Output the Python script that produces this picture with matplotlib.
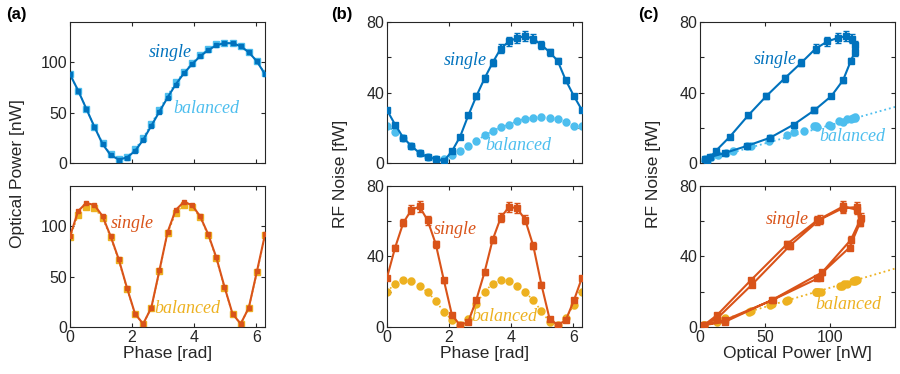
import numpy as np
import matplotlib.pyplot as plt

plt.rcParams['font.family'] = ['Liberation Sans', 'DejaVu Sans']

# phase samples (rad)
phase = np.arange(25) * np.pi / 12

# (a) optical power [nW]
pow1_bal = [88, 72, 54, 36, 20, 8.6, 4, 6, 13.6, 25, 39, 53, 67, 80, 90, 99,
            107, 113, 118, 119.5, 119, 116, 110, 101, 89]
pow1_sng = [88, 72, 54, 36, 19, 7.8, 3.5, 5.5, 12, 23, 37, 51, 65, 78, 89, 98,
            106, 112, 117, 119, 119, 116, 110, 101, 88]
pow2_bal = [89, 111, 119, 118, 108, 89, 66, 38, 13, 3, 19, 55, 93, 113, 121,
            119, 109, 91, 68, 39, 13, 3, 19, 54, 91]
pow2_sng = [90, 115, 123, 121, 110, 90, 67, 39, 13, 3, 19, 56, 94, 116, 124,
            121, 110, 92, 69, 40, 13, 3, 19, 55, 92]

# (b) RF noise [fW]
rf1_sng = [30, 21.8, 14.4, 9.7, 5.7, 3.4, 2.3, 1.1, 6.8, 15, 27, 38, 48, 57,
           65, 69, 71, 72, 70.6, 67, 63, 58, 47, 38, 30]
rf1_sng_err = [1, 1, 1, 1, 1, 1, 1, 1, 1, 1, 1.5, 1.5, 2, 2, 2.5, 2.5, 3, 3,
               2.5, 2.5, 2, 1.5, 1.5, 1, 1]
rf1_bal = [21, 17.6, 14.4, 9.7, 5.7, 3.4, 2.3, 2.5, 4.4, 6.8, 9.7, 12.5, 15.7,
           18.2, 20.5, 21.8, 23.9, 25.2, 25.8, 26.1, 25.6, 25.2, 23.3, 20.8, 21]
rf2_sng = [28, 45, 59, 66.4, 68.3, 60.4, 47, 26.4, 6.6, 1, 2.8, 15.5, 31, 49.4,
           62, 68, 67.4, 60.8, 46, 24, 4.7, 1, 3.8, 15, 28]
rf2_sng_err = [1, 1.5, 2, 2.5, 3, 2.5, 2, 1.5, 1, 1, 1, 1, 1.5, 2, 2.5, 3, 3,
               2.5, 2, 1.5, 1, 1, 1, 1, 1]
rf2_bal = [20, 24.5, 26.4, 26, 23, 19.8, 14.7, 8.5, 3.8, 1.3, 4.7, 13.2, 20,
           24.5, 26.8, 26, 23, 19.8, 15, 9, 2.8, 1, 5.3, 12.3, 20]
bal_err = 1.5

# (c) linear fits of balanced noise vs power
fit1 = (0.207, 0.8)
fit2 = (0.218, 0.4)
fit_x = [0, 150]

blue, lblue = '#0072BD', '#4DBEEE'
red, yel = '#D95319', '#EDB120'

fig = plt.figure(figsize=(9, 3.74), dpi=100)
W = 0.2167
H = 0.377
lefts = [0.0778, 0.43, 0.7778]
bots = [0.564, 0.126]
axs = [[fig.add_axes([l, b, W, H]) for l in lefts] for b in bots]


def style(ax):
    ax.tick_params(direction='in', top=True, right=True, length=3,
                   labelsize=11.5, colors='#262626', pad=2)
    for s in ax.spines.values():
        s.set_color('#262626')
        s.set_linewidth(0.8)


def lab(ax, x, y, s, c):
    ax.text(x, y, s, color=c, fontsize=13, style='italic',
            family='Liberation Serif', ha='center', va='center')


# (a)
for ax, sng, bal, cs, cb in [(axs[0][0], pow1_sng, pow1_bal, blue, lblue),
                             (axs[1][0], pow2_sng, pow2_bal, red, yel)]:
    ax.errorbar(phase, bal, yerr=1, color=cb, ls=':', marker='s', ms=4,
                capsize=1, lw=1.2, zorder=2)
    ax.plot(phase, sng, color=cs, marker='s', ms=2.5, lw=1.5, zorder=3)
    ax.set_xlim(0, 2 * np.pi)
    ax.set_ylim(0, 140)
    ax.set_yticks([0, 50, 100])
    ax.set_xticks([0, 2, 4, 6])
    style(ax)
axs[0][0].set_xticklabels([])
lab(axs[0][0], 3.24, 110, 'single', blue)
lab(axs[0][0], 4.4, 54, 'balanced', lblue)
lab(axs[1][0], 2.0, 103, 'single', red)
lab(axs[1][0], 3.77, 18, 'balanced', yel)

# (b)
for ax, sng, serr, bal, cs, cb in [(axs[0][1], rf1_sng, rf1_sng_err, rf1_bal, blue, lblue),
                                   (axs[1][1], rf2_sng, rf2_sng_err, rf2_bal, red, yel)]:
    ax.errorbar(phase, bal, yerr=bal_err, color=cb, ls=':', marker='o', ms=5,
                capsize=1.5, lw=1.2, zorder=2)
    ax.errorbar(phase, sng, yerr=serr, color=cs, ls='-', marker='s', ms=4,
                capsize=2, lw=1.5, zorder=3)
    ax.set_xlim(0, 2 * np.pi)
    ax.set_ylim(0, 80)
    ax.set_yticks([0, 20, 40, 60, 80])
    ax.set_yticklabels(['0', '', '40', '', '80'])
    ax.set_xticks([0, 2, 4, 6])
    style(ax)
axs[0][1].set_xticklabels([])
lab(axs[0][1], 2.53, 58, 'single', blue)
lab(axs[0][1], 4.22, 10, 'balanced', lblue)
lab(axs[1][1], 2.19, 55, 'single', red)
lab(axs[1][1], 3.79, 5.7, 'balanced', yel)

# (c)
for ax, ps, pb, sng, serr, bal, fit, cs, cb in [
        (axs[0][2], pow1_sng, pow1_bal, rf1_sng, rf1_sng_err, rf1_bal, fit1, blue, lblue),
        (axs[1][2], pow2_sng, pow2_bal, rf2_sng, rf2_sng_err, rf2_bal, fit2, red, yel)]:
    fx = np.array(fit_x)
    ax.plot(fx, fit[0] * fx + fit[1], color=cb, ls=':', lw=1.3, zorder=1)
    ax.errorbar(pb, bal, yerr=bal_err, color=cb, ls='none', marker='o', ms=5,
                capsize=1.5, zorder=2)
    ax.errorbar(ps, sng, yerr=serr, color=cs, ls='-', marker='s', ms=4,
                capsize=2, lw=1.5, zorder=3)
    ax.set_xlim(0, 150)
    ax.set_ylim(0, 80)
    ax.set_yticks([0, 20, 40, 60, 80])
    ax.set_yticklabels(['0', '', '40', '', '80'])
    ax.set_xticks([0, 50, 100])
    style(ax)
axs[0][2].set_xticklabels([])
lab(axs[0][2], 57.8, 58.7, 'single', blue)
lab(axs[0][2], 117, 14.8, 'balanced', lblue)
lab(axs[1][2], 66.8, 60.8, 'single', red)
lab(axs[1][2], 114.4, 12.6, 'balanced', yel)

axs[1][0].set_xlabel('Phase [rad]', fontsize=12.5, color='#262626', labelpad=1)
axs[1][1].set_xlabel('Phase [rad]', fontsize=12.5, color='#262626', labelpad=1)
axs[1][2].set_xlabel('Optical Power [nW]', fontsize=12.5, color='#262626', labelpad=1)

fig.text(0.02, 0.535, 'Optical Power [nW]', rotation=90, ha='center',
         va='center', fontsize=12.5, color='#262626')
fig.text(0.378, 0.535, 'RF Noise [fW]', rotation=90, ha='center',
         va='center', fontsize=12.5, color='#262626')
fig.text(0.726, 0.535, 'RF Noise [fW]', rotation=90, ha='center',
         va='center', fontsize=12.5, color='#262626')

for x, s in [(0.018, '(a)'), (0.38, '(b)'), (0.72, '(c)')]:
    fig.text(x, 0.96, s, fontsize=12, fontweight='bold', ha='center', va='center')

fig.savefig('out.png', dpi=100)
